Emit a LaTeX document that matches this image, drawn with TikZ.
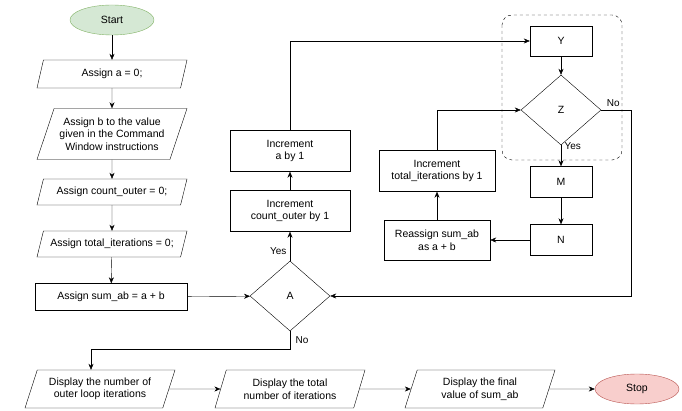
\documentclass[tikz,border=0pt]{standalone}
\usepackage{fontspec}
\setmainfont{Liberation Sans}
\usetikzlibrary{arrows.meta,positioning,shapes.geometric,calc}
\definecolor{startfill}{HTML}{D5E8D4}
\definecolor{startdraw}{HTML}{82B366}
\definecolor{stopfill}{HTML}{F8CECC}
\definecolor{stopdraw}{HTML}{B85450}
\tikzset{
    line/.style   = {-{Stealth[length=6pt,width=5pt]}, draw=black},
    block/.style  = {draw=black, fill=white, align=center, inner sep=2pt},
    io/.style     = {trapezium, trapezium left angle=65, trapezium right angle=115,
            trapezium stretches body, draw=black, fill=white, align=center,
            minimum width=150pt, inner sep=2pt},
    decision/.style = {diamond, draw=black, fill=white, minimum width=80pt,
            minimum height=70pt, inner sep=0pt},
    term/.style   = {ellipse, minimum width=84pt, minimum height=30pt},
    lbl/.style    = {font=\fontsize{10}{12}\selectfont},
}
\begin{document}
\begin{tikzpicture}[x=1pt,y=-1pt,font=\fontsize{10.5}{12.5}\selectfont]
    \useasboundingbox (0,0) rectangle (682,411);
    % left column
    \node[term, draw=startdraw, fill=startfill] (start) at (112,20) {Start};
    \node[io, minimum height=28pt] (seta) at (112,74) {Assign a = 0;};
    \node[io, minimum height=51pt] (setb) at (112,134) {Assign b to the value\\given in the Command\\Window instructions};
    \node[io, minimum height=26pt] (setco) at (112,192) {Assign count\_outer = 0;};
    \node[io, minimum height=26pt] (setti) at (112,244) {Assign total\_iterations = 0;};
    \node[block, minimum width=152pt, minimum height=27pt] (setsum) at (111,297) {Assign sum\_ab = a + b};
    % outer loop
    \node[decision] (dA) at (290,296) {A};
    \node[block, minimum width=120pt, minimum height=41pt] (incco) at (290,211) {Increment\\count\_outer by 1};
    \node[block, minimum width=120pt, minimum height=41pt] (inca) at (290,151) {Increment\\a by 1};
    % inner loop
    \node[block, minimum width=62pt, minimum height=30pt] (bY) at (561,41) {Y};
    \node[decision] (dZ) at (561,110) {Z};
    \node[block, minimum width=62pt, minimum height=31pt] (bM) at (561,182) {M};
    \node[block, minimum width=62pt, minimum height=31pt] (bN) at (561,240) {N};
    \node[block, minimum width=106pt, minimum height=40pt] (resum) at (437,240) {Reassign sum\_ab\\as a + b};
    \node[block, minimum width=116pt, minimum height=41pt] (incti) at (437,171) {Increment\\total\_iterations by 1};
    \draw[dashed, draw=black, rounded corners=10pt] (502,15) rectangle (622,160);
    % output row
    \node[io, minimum height=38pt] (outco) at (100,389) {Display the number of\\outer loop iterations};
    \node[io, minimum height=38pt] (outti) at (290,389) {Display the total\\number of iterations};
    \node[io, minimum height=38pt] (outsum) at (480,389) {Display the final\\value of sum\_ab};
    \node[term, draw=stopdraw, fill=stopfill] (stop) at (637,389) {Stop};

    % Arrows
    \draw[line] (start) -- (seta);
    \draw[line] (seta) -- (setb);
    \draw[line] (setb) -- (setco);
    \draw[line] (setco) -- (setti);
    \draw[line] (setti) -- (setsum);
    \draw[line] (setsum) -- (dA);
    \draw[line] (dA.north) -- node[lbl, pos=.35, left]{Yes} (incco);
    \draw[line] (incco) -- (inca);
    \draw[line] (inca.north) |- (bY.west);
    \draw[line] (bY) -- (dZ);
    \draw[line] (dZ.south) -- node[lbl, pos=.1, right, yshift=1pt]{Yes} (bM);
    \draw[line] (bM) -- (bN);
    \draw[line] (bN) -- (resum);
    \draw[line] (resum) -- (incti);
    \draw[line] (incti.north) |- (dZ.west);
    \coordinate (bump) at ($(dZ.east)+(30,0)$);
    \draw[line] (dZ.east) -- node[lbl, pos=.4, above]{No} (bump) |- (dA.east);
    \coordinate (drop) at ($(dA.south)+(0,18)$);
    \coordinate (outin) at ($(outco.north)+(-9,0)$);
    \draw[line] (dA.south) -- node[lbl, pos=.5, right, xshift=2pt]{No} (drop) -| (outin);
    \draw[line] (outco) -- (outti);
    \draw[line] (outti) -- (outsum);
    \draw[line] (outsum) -- (stop);
\end{tikzpicture}
\end{document}
